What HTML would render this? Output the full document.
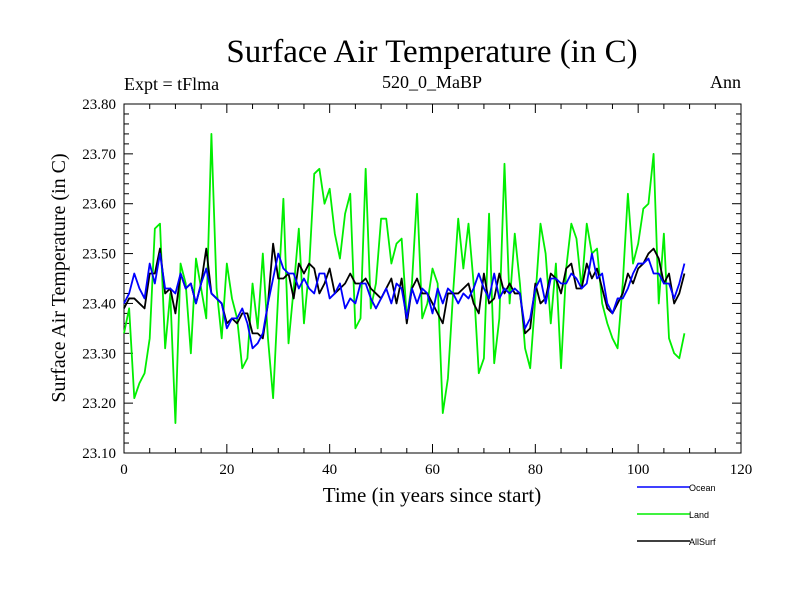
<!DOCTYPE html>
<html><head><meta charset="utf-8"><style>
body{margin:0;background:#fff}
svg text{font-family:"Liberation Serif",serif}
</style></head><body>
<svg width="800" height="600" xmlns="http://www.w3.org/2000/svg">
<g id="axes"></g>
<g id="series"></g>
<text x="432" y="62" font-size="33" text-anchor="middle">Surface Air Temperature (in C)</text>
<text x="124" y="90" font-size="18">Expt = tFlma</text>
<text x="432" y="88" font-size="18" text-anchor="middle">520_0_MaBP</text>
<text x="741" y="88" font-size="18" text-anchor="end">Ann</text>
<text x="432" y="502" font-size="21" text-anchor="middle">Time (in years since start)</text>
<text transform="translate(65,278) rotate(-90)" font-size="20" text-anchor="middle">Surface Air Temperature (in C)</text>
<g>
<line x1="637" y1="487" x2="690" y2="487" stroke="#0000ff" stroke-width="1.5"/>
<text x="689" y="491" font-size="9" style="font-family:'Liberation Sans',sans-serif">Ocean</text>
<line x1="637" y1="514" x2="690" y2="514" stroke="#00ee00" stroke-width="1.5"/>
<text x="689" y="518" font-size="9" style="font-family:'Liberation Sans',sans-serif">Land</text>
<line x1="637" y1="541" x2="690" y2="541" stroke="#000" stroke-width="1.5"/>
<text x="689" y="545" font-size="9" style="font-family:'Liberation Sans',sans-serif">AllSurf</text>
</g>
</svg>
<script>
const xTicks=[0,20,40,60,80,100,120];
const yTicks=[23.10,23.20,23.30,23.40,23.50,23.60,23.70,23.80];
const land=[23.34,23.39,23.21,23.24,23.26,23.33,23.55,23.56,23.31,23.42,23.16,23.48,23.44,23.30,23.49,23.43,23.37,23.74,23.43,23.33,23.48,23.41,23.37,23.27,23.29,23.44,23.35,23.50,23.33,23.21,23.42,23.61,23.32,23.43,23.55,23.36,23.47,23.66,23.67,23.60,23.63,23.54,23.49,23.58,23.62,23.35,23.37,23.67,23.39,23.44,23.57,23.57,23.48,23.52,23.53,23.37,23.44,23.62,23.37,23.40,23.47,23.44,23.18,23.25,23.42,23.57,23.47,23.56,23.44,23.26,23.29,23.58,23.28,23.37,23.68,23.40,23.54,23.44,23.31,23.27,23.41,23.56,23.50,23.36,23.48,23.27,23.47,23.56,23.53,23.43,23.56,23.50,23.51,23.40,23.36,23.33,23.31,23.44,23.62,23.48,23.52,23.59,23.60,23.70,23.40,23.54,23.33,23.30,23.29,23.34];
const ocean=[23.40,23.42,23.46,23.43,23.41,23.48,23.44,23.50,23.43,23.43,23.42,23.46,23.43,23.44,23.40,23.44,23.47,23.42,23.41,23.40,23.35,23.37,23.37,23.39,23.36,23.31,23.32,23.34,23.40,23.45,23.50,23.47,23.46,23.46,23.43,23.45,23.43,23.42,23.46,23.46,23.41,23.42,23.44,23.39,23.41,23.40,23.44,23.44,23.41,23.39,23.41,23.43,23.40,23.44,23.43,23.37,23.43,23.40,23.43,23.42,23.38,23.43,23.40,23.43,23.42,23.40,23.42,23.41,23.43,23.46,23.43,23.41,23.46,23.41,23.43,23.42,23.43,23.42,23.35,23.37,23.43,23.45,23.40,23.45,23.45,23.44,23.44,23.46,23.45,23.43,23.44,23.50,23.45,23.46,23.40,23.38,23.41,23.41,23.43,23.46,23.48,23.48,23.49,23.46,23.46,23.44,23.44,23.41,23.44,23.48];
const allsurf=[23.39,23.41,23.41,23.40,23.39,23.46,23.46,23.51,23.42,23.43,23.38,23.46,23.43,23.44,23.40,23.44,23.51,23.42,23.41,23.40,23.36,23.37,23.36,23.38,23.38,23.34,23.34,23.33,23.40,23.52,23.45,23.45,23.46,23.41,23.48,23.46,23.48,23.47,23.42,23.44,23.47,23.42,23.43,23.44,23.46,23.44,23.44,23.45,23.43,23.42,23.41,23.43,23.45,23.40,23.45,23.36,23.43,23.45,23.42,23.42,23.40,23.38,23.36,23.42,23.42,23.42,23.43,23.44,23.40,23.38,23.46,23.40,23.41,23.46,23.42,23.44,23.42,23.42,23.34,23.35,23.44,23.40,23.41,23.46,23.45,23.42,23.47,23.48,23.43,23.43,23.48,23.45,23.47,23.43,23.39,23.38,23.40,23.42,23.46,23.44,23.47,23.48,23.50,23.51,23.49,23.44,23.46,23.40,23.42,23.46];
const NS='http://www.w3.org/2000/svg';
const L=124,R=741,T=104,B=453;
const sx=v=>L+(v-0)/(120-0)*(R-L);
const sy=v=>B-(v-23.10)/(23.80-23.10)*(B-T);
const axes=document.getElementById('axes'),ser=document.getElementById('series');
function mk(t,a,p){const e=document.createElementNS(NS,t);for(const k in a)e.setAttribute(k,a[k]);p.appendChild(e);return e;}
const frame=mk('rect',{x:L,y:T,width:R-L,height:B-T,fill:'none',stroke:'#000','stroke-width':1},axes);


for(let v=0;v<=120;v+=5){const x=sx(v);const len=v%20===0?9:5;
 mk('line',{x1:x,y1:B,x2:x,y2:B-len,stroke:'#000'},axes);mk('line',{x1:x,y1:T,x2:x,y2:T+len,stroke:'#000'},axes);}
for(let i=0;i<=35;i++){const v=23.10+i*0.02;const y=sy(v);const len=i%5===0?9:5;
 mk('line',{x1:L,y1:y,x2:L+len,y2:y,stroke:'#000'},axes);mk('line',{x1:R,y1:y,x2:R-len,y2:y,stroke:'#000'},axes);}
xTicks.forEach(v=>{const t=mk('text',{x:sx(v),y:B+21,'font-size':15,'text-anchor':'middle'},axes);t.textContent=v;
 
 });
yTicks.forEach(v=>{const t=mk('text',{x:L-8,y:sy(v)+5,'font-size':15,'text-anchor':'end'},axes);t.textContent=v.toFixed(2);
 
 });
function line(d,c,name){const p=mk('polyline',{points:d.map((v,i)=>sx(i)+','+sy(v)).join(' '),fill:'none',stroke:c,'stroke-width':1.8,'stroke-linejoin':'round'},ser);
 
 }
line(land,'#00ee00','land-line');
line(allsurf,'#000000','allsurf-line');
line(ocean,'#0000ff','ocean-line');
</script>
</body></html>
